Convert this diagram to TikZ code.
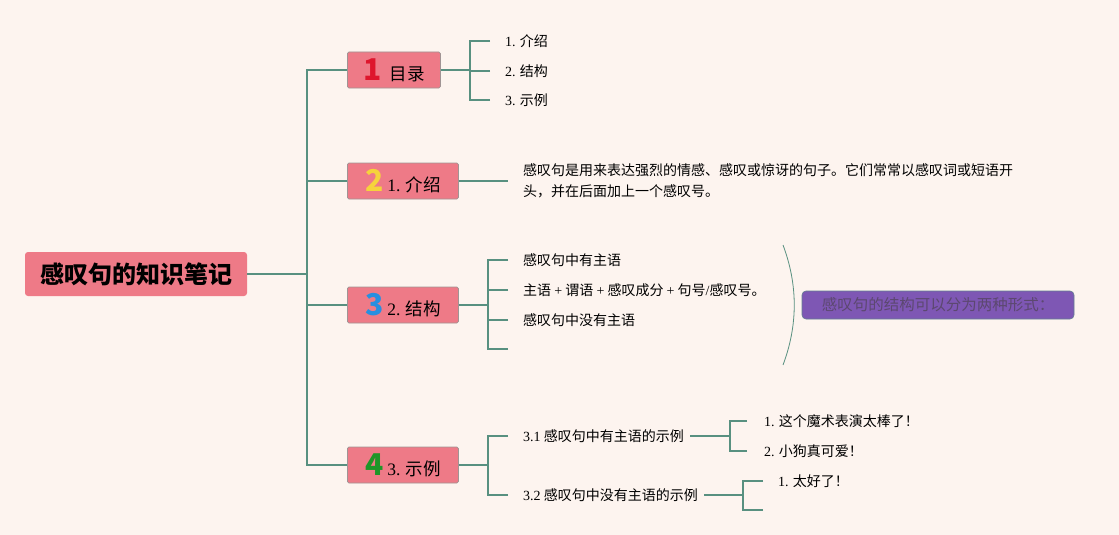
\documentclass[tikz,border=0pt]{standalone}
\usepackage{fontspec}
\setmainfont{Noto Sans CJK SC}
\newfontfamily\latfont{Liberation Serif}
\newcommand\lat[1]{{\latfont #1}}
\newcommand\bigdigit[2]{{\color{#1}\fontsize{30}{30}\selectfont\bfseries #2}}
\definecolor{bgc}{RGB}{253,244,239}
\definecolor{linec}{RGB}{88,144,128}
\definecolor{boxc}{RGB}{238,122,135}
\definecolor{boxb}{RGB}{160,148,148}
\definecolor{purp}{RGB}{126,87,180}
\definecolor{purpt}{RGB}{92,72,112}
\definecolor{dred}{RGB}{222,22,45}
\definecolor{dyel}{RGB}{246,211,60}
\definecolor{dblu}{RGB}{40,143,224}
\definecolor{dgrn}{RGB}{30,150,40}
\tikzset{
  conn/.style={draw=linec, line width=1.8pt},
  rootbox/.style={fill=boxc, rounded corners=3pt, minimum width=222pt, minimum height=44pt, inner sep=0pt, font=\fontsize{24}{24}\selectfont\bfseries},
  branchbox/.style={fill=boxc, draw=boxb, line width=0.8pt, rounded corners=1.5pt, minimum height=36pt, inner sep=0pt, anchor=west, font=\fontsize{17.5}{17.5}\selectfont},
  leaf/.style={anchor=west, inner sep=0pt, font=\fontsize{14}{21}\selectfont, align=left},
  purpbox/.style={fill=purp, draw=linec!70!purp, line width=0.6pt, rounded corners=4pt, minimum width=272pt, minimum height=28pt, inner sep=0pt, text=purpt, font=\fontsize{15.5}{15.5}\selectfont},
}
\begin{document}
\begin{tikzpicture}[x=1pt, y=-1pt]
\useasboundingbox (0,0) rectangle (1119,535);
\fill[bgc] (0,0) rectangle (1119,535);

% root
\node[rootbox] (root) at (136,274) {感叹句的知识笔记};
\coordinate (j0) at (307,274);

% branches
\node[branchbox, minimum width=93pt] (b1) at (347,70) {\bigdigit{dred}{1}\hspace{8pt}目录};
\node[branchbox, minimum width=111pt] (b2) at (347,181) {\bigdigit{dyel}{2}\hspace{4pt}\lat{1.} 介绍};
\node[branchbox, minimum width=111pt] (b3) at (347,305) {\bigdigit{dblu}{3}\hspace{4pt}\lat{2.} 结构};
\node[branchbox, minimum width=111pt] (b4) at (347,465) {\bigdigit{dgrn}{4}\hspace{4pt}\lat{3.} 示例};

\draw[conn] (root.east) -- (j0);
\draw[conn] (b1.west) -| (j0);
\draw[conn] (b2.west) -| (j0);
\draw[conn] (b3.west) -| (j0);
\draw[conn] (b4.west) -| (j0);

% branch 1 children
\coordinate (j1) at (470,70);
\node[leaf] (t11) at (505,41) {\lat{1.} 介绍};
\node[leaf] (t12) at (505,71) {\lat{2.} 结构};
\node[leaf] (t13) at (505,100) {\lat{3.} 示例};
\draw[conn] (b1.east) -- (j1);
\draw[conn] ([xshift=-15pt]t11.west) -| (j1);
\draw[conn] ([xshift=-15pt]t12.west) -| (j1);
\draw[conn] ([xshift=-15pt]t13.west) -| (j1);

% branch 2 text
\node[leaf] (t21) at (523,181) {感叹句是用来表达强烈的情感、感叹或惊讶的句子。它们常常以感叹词或短语开\\头，并在后面加上一个感叹号。};
\draw[conn] (b2.east) -- ([xshift=-15pt]t21.west);

% branch 3 children
\coordinate (j3) at (488,305);
\node[leaf] (t31) at (523,260) {感叹句中有主语};
\node[leaf] (t32) at (523,290) {主语 \lat{+} 谓语 \lat{+} 感叹成分 \lat{+} 句号\lat{/}感叹号。};
\node[leaf] (t33) at (523,320) {感叹句中没有主语};
\coordinate (t34) at (508,349);
\draw[conn] (b3.east) -- (j3);
\draw[conn] ([xshift=-15pt]t31.west) -| (j3);
\draw[conn] ([xshift=-15pt]t32.west) -| (j3);
\draw[conn] ([xshift=-15pt]t33.west) -| (j3);
\draw[conn] (t34) -| (j3);

% brace and summary
\coordinate (bt) at (783,245);
\coordinate (bb) at (783,365);
\draw[draw=linec, line width=0.8pt] (bt) .. controls (798,285) and (798,325) .. (bb);
\node[purpbox] (sum) at (938,305) {感叹句的结构可以分为两种形式：};

% branch 4 children
\coordinate (j4) at (488,465);
\node[leaf] (t41) at (523,436) {\lat{3.1} 感叹句中有主语的示例};
\node[leaf] (t42) at (523,495) {\lat{3.2} 感叹句中没有主语的示例};
\draw[conn] (b4.east) -- (j4);
\draw[conn] ([xshift=-15pt]t41.west) -| (j4);
\draw[conn] ([xshift=-15pt]t42.west) -| (j4);

% 3.1 children
\coordinate (j41) at (730,436);
\node[leaf] (t411) at (764,421) {\lat{1.} 这个魔术表演太棒了！};
\node[leaf] (t412) at (764,451) {\lat{2.} 小狗真可爱！};
\draw[conn] ([xshift=6pt]t41.east) -- (j41);
\draw[conn] ([xshift=-17pt]t411.west) -| (j41);
\draw[conn] ([xshift=-17pt]t412.west) -| (j41);

% 3.2 children
\coordinate (j42) at (743,495);
\node[leaf] (t421) at (778,481) {\lat{1.} 太好了！};
\coordinate (t422) at (763,510);
\draw[conn] ([xshift=6pt]t42.east) -- (j42);
\draw[conn] ([xshift=-15pt]t421.west) -| (j42);
\draw[conn] (t422) -| (j42);
\end{tikzpicture}
\end{document}
